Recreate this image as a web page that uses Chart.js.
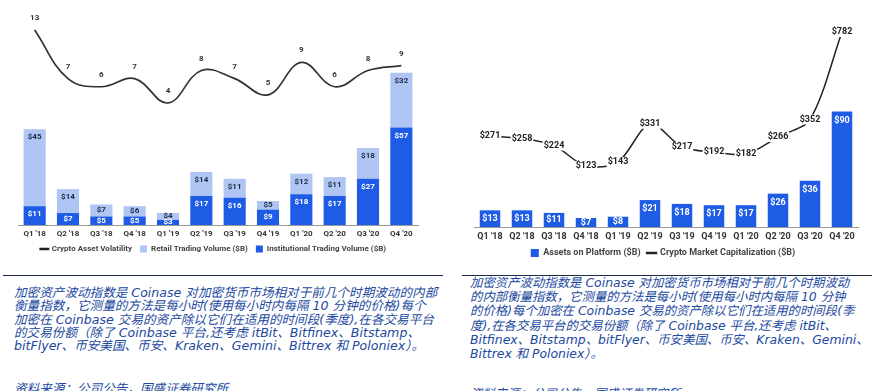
<!DOCTYPE html>
<html><head><meta charset="utf-8">
<script src="https://cdn.jsdelivr.net/npm/chart.js@4.4.1/dist/chart.umd.min.js"></script>
<style>
html,body{margin:0;padding:0;background:#fff;width:884px;height:391px;overflow:hidden;position:relative;}
#c1{position:absolute;left:0;top:0;}
#c2{position:absolute;left:444px;top:0;}
.rule{position:absolute;height:0;border-top:1.5px solid #1c2b48;}
.note{position:absolute;font-family:"DejaVu Sans","Noto Sans CJK SC",sans-serif;font-style:italic;color:#2249a0;white-space:nowrap;}
</style></head><body>
<canvas id="c1" width="440" height="269"></canvas>
<canvas id="c2" width="440" height="273"></canvas>
<div class="rule" style="left:3px;top:275px;width:440px"></div>
<div class="rule" style="left:462px;top:275px;width:410px"></div>
<div class="note" style="left:14px;top:286px;font-size:12.6px;line-height:13.3px">加密资产波动指数是 Coinase 对加密货币市场相对于前几个时期波动的内部<br>衡量指数，它测量的方法是每小时(使用每小时内每隔 10 分钟的价格)每个<br>加密在 Coinbase 交易的资产除以它们在适用的时间段(季度),在各交易平台<br>的交易份额（除了 Coinbase 平台,还考虑 itBit、Bitfinex、Bitstamp、<br>bitFlyer、币安美国、币安、Kraken、Gemini、Bittrex 和 Poloniex）。</div>
<div class="note" style="left:14px;top:382px;font-size:12.6px;line-height:13.3px">资料来源：公司公告，国盛证券研究所</div>
<div class="note" style="left:470px;top:276px;font-size:12.4px;line-height:14.2px">加密资产波动指数是 Coinase 对加密货币市场相对于前几个时期波动<br>的内部衡量指数，它测量的方法是每小时(使用每小时内每隔 10 分钟<br>的价格)每个加密在 Coinbase 交易的资产除以它们在适用的时间段(季<br>度),在各交易平台的交易份额（除了 Coinbase 平台,还考虑 itBit、<br>Bitfinex、Bitstamp、bitFlyer、币安美国、币安、Kraken、Gemini、<br>Bittrex 和 Poloniex）。</div>
<div class="note" style="left:470px;top:387px;font-size:12.4px;line-height:14.2px">资料来源：公司公告，国盛证券研究所</div>
<script>
const categories = ["Q1 '18","Q2 '18","Q3 '18","Q4 '18","Q1 '19","Q2 '19","Q3 '19","Q4 '19","Q1 '20","Q2 '20","Q3 '20","Q4 '20"];
const volatility = [13,7,6,7,4,8,7,5,9,6,8,8.6];
const retailVolume = [45,14,7,6,4,14,11,5,12,11,18,32];
const institutionalVolume = [11,7,5,5,3,17,16,9,18,17,27,57];
const assetsOnPlatform = [13,13,11,7,8,21,18,17,17,26,36,90];
const marketCap = [271,258,224,123,143,331,217,192,182,266,352,782];

const BLUE = '#1f5ce6';
const LIGHT = '#afc5f3';
const FONT = 'Roboto';

function legendOpts(size, pad, box, rank){
  return {
    position:'bottom',
    labels:{
      usePointStyle:true, boxHeight:box, boxWidth:box, padding:pad,
      color:'#444', font:{family:FONT,size:size,weight:'bold'},
      sort:(a,b)=>rank[a.datasetIndex]-rank[b.datasetIndex],
      generateLabels(chart){
        const items = Chart.defaults.plugins.legend.labels.generateLabels(chart);
        items.forEach(it=>{
          const ds = chart.data.datasets[it.datasetIndex];
          if(ds.type==='line'){ it.pointStyle='line'; it.lineWidth=2.5; it.strokeStyle='#222'; }
          else { it.pointStyle='rect'; it.lineWidth=0; }
        });
        return items;
      }
    }
  };
}

// places the legend row: text centre at opts.center, shifted sideways by opts.dx
const legendPlace = {
  id:'legendPlace',
  beforeDraw(chart, args, opts){
    const lg = chart.legend;
    if(!lg || opts.center == null) return;
    const lo = lg.options.labels;
    const natural = lg.top + lo.padding + lo.font.size / 2;
    const dy = opts.center - natural;
    lg.top += dy; lg.bottom += dy;
    const dx = opts.dx || 0;
    lg.left += dx; lg.right += dx;
  }
};

function barLabel(ctx, el, text, color, off){
  const top = Math.min(el.y, el.base), base = Math.max(el.y, el.base);
  const y = Math.min(top + off, (top + base) / 2);
  ctx.fillStyle = color;
  ctx.fillText(text, el.x, y);
}

const leftLabels = {
  id:'leftLabels',
  afterDatasetsDraw(chart){
    const ctx = chart.ctx;
    ctx.save();
    ctx.font = 'bold 8px Roboto';
    ctx.textAlign = 'center'; ctx.textBaseline = 'middle';
    chart.data.datasets.forEach((ds,i)=>{
      chart.getDatasetMeta(i).data.forEach((el,j)=>{
        const v = ds.data[j];
        if(ds.type==='line'){
          ctx.fillStyle = '#333';
          ctx.fillText(String(Math.round(v)), el.x, el.y - 12);
        } else {
          barLabel(ctx, el, '$' + v, ds.labelColor, 8);
        }
      });
    });
    ctx.restore();
  }
};

const rightLabels = {
  id:'rightLabels',
  afterDatasetsDraw(chart){
    const ctx = chart.ctx;
    ctx.save();
    ctx.font = 'bold 9px Roboto';
    ctx.textAlign = 'center'; ctx.textBaseline = 'middle';
    chart.data.datasets.forEach((ds,i)=>{
      chart.getDatasetMeta(i).data.forEach((el,j)=>{
        const v = ds.data[j];
        const t = '$' + v;
        if(ds.type==='line'){
          const w = ctx.measureText(t).width + 2;
          ctx.fillStyle = '#fff';
          ctx.fillRect(el.x - w/2, el.y - 5, w, 10);
          ctx.fillStyle = '#222';
          ctx.fillText(t, el.x, el.y);
        } else {
          barLabel(ctx, el, t, '#fff', 9);
        }
      });
    });
    ctx.restore();
  }
};

const xAxis = (size, pad)=>({
  stacked:true,
  grid:{display:false, drawTicks:false},
  border:{display:true, color:'#9a9a9a', width:1},
  ticks:{color:'#333', padding:pad, font:{family:FONT,size:size,weight:'bold',lineHeight:1}, maxRotation:0, autoSkip:false}
});

new Chart(document.getElementById('c1'), {
  data:{
    labels:categories,
    datasets:[
      {type:'bar', label:'Institutional Trading Volume ($B)', data:institutionalVolume, backgroundColor:BLUE, labelColor:'#fff', yAxisID:'y', stack:'v', categoryPercentage:0.8, barPercentage:0.83},
      {type:'bar', label:'Retail Trading Volume ($B)', data:retailVolume, backgroundColor:LIGHT, labelColor:'#1d2a44', yAxisID:'y', stack:'v', categoryPercentage:0.8, barPercentage:0.83},
      {type:'line', label:'Crypto Asset Volatility', data:volatility, borderColor:'#333', backgroundColor:'#333', borderWidth:1.7, tension:0.4, pointRadius:0, yAxisID:'y1', order:-1}
    ]
  },
  options:{
    responsive:false, animation:false,
    layout:{padding:{left:18, right:22, top:8, bottom:0}},
    scales:{
      x:xAxis(8, 5),
      y:{display:false, stacked:true, min:0, max:126.9},
      y1:{display:false, min:-11.07, max:15.72}
    },
    plugins:{
      legend:legendOpts(8, 8, 7, {2:0, 1:1, 0:2}),
      legendPlace:{center:249, dx:-4.5},
      tooltip:{enabled:false}
    }
  },
  plugins:[leftLabels, legendPlace]
});

new Chart(document.getElementById('c2'), {
  data:{
    labels:categories,
    datasets:[
      {type:'bar', label:'Assets on Platform ($B)', data:assetsOnPlatform, backgroundColor:BLUE, yAxisID:'y', categoryPercentage:0.8, barPercentage:0.8},
      {type:'line', label:'Crypto Market Capitalization ($B)', data:marketCap, borderColor:'#222', backgroundColor:'#222', borderWidth:1.5, tension:0.3, pointRadius:0, yAxisID:'y1', order:-1}
    ]
  },
  options:{
    responsive:false, animation:false,
    layout:{padding:{left:30, right:26, top:8, bottom:0}},
    scales:{
      x:xAxis(9, 5.5),
      y:{display:false, min:0, max:170.7},
      y1:{display:false, min:-176.3, max:900}
    },
    plugins:{
      legend:legendOpts(9, 7, 8, {0:0, 1:1}),
      legendPlace:{center:253, dx:-3},
      tooltip:{enabled:false}
    }
  },
  plugins:[rightLabels, legendPlace]
});
</script>
</body></html>
